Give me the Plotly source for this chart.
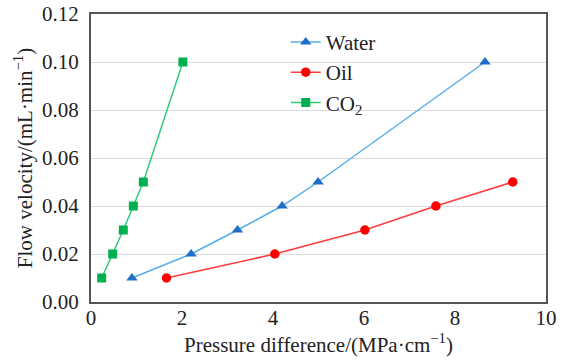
import plotly.graph_objects as go

water_x = [0.90, 2.20, 3.22, 4.20, 4.99, 8.66]
water_y = [0.01, 0.02, 0.03, 0.04, 0.05, 0.10]
oil_x = [1.66, 4.04, 6.02, 7.58, 9.27]
oil_y = [0.01, 0.02, 0.03, 0.04, 0.05]
co2_x = [0.235, 0.477, 0.71, 0.93, 1.15, 2.02]
co2_y = [0.01, 0.02, 0.03, 0.04, 0.05, 0.10]

font = "Liberation Serif"
fs = 21

fig = go.Figure()
fig.add_trace(go.Scatter(x=water_x, y=water_y, name="Water", mode="lines+markers",
                         line=dict(color="#56aee8", width=1.5),
                         marker=dict(symbol="triangle-up", size=10, color="#1f6fc8")))
fig.add_trace(go.Scatter(x=oil_x, y=oil_y, name="Oil", mode="lines+markers",
                         line=dict(color="#ff3b3b", width=1.5),
                         marker=dict(symbol="circle", size=9.5, color="#ff0000")))
fig.add_trace(go.Scatter(x=co2_x, y=co2_y, name="CO<sub>2</sub>", mode="lines+markers",
                         line=dict(color="#2fcc7a", width=1.5),
                         marker=dict(symbol="square", size=9, color="#00b050")))

fig.update_layout(
    width=566, height=361,
    margin=dict(l=91, r=20, t=14, b=59, autoexpand=False),
    paper_bgcolor="white", plot_bgcolor="white",
    font=dict(family=font, size=fs, color="#222"),
    showlegend=True,
    legend=dict(x=0.428, y=0.973, xanchor="left", yanchor="top",
                bgcolor="rgba(0,0,0,0)", font=dict(size=fs, family=font)),
    xaxis=dict(range=[0, 10], tickvals=[0, 2, 4, 6, 8, 10], showgrid=False,
               showline=True, linecolor="#555", linewidth=2, mirror=True,
               ticks="", zeroline=False, automargin=False, ticklabelstandoff=-4,
               title=dict(text="Pressure difference/(MPa·cm<sup>−1</sup>)", standoff=0,
                          font=dict(size=fs, family=font)),
               tickfont=dict(size=fs, family=font)),
    yaxis=dict(range=[0, 0.12], tickvals=[0, 0.02, 0.04, 0.06, 0.08, 0.10, 0.12],
               tickformat=".2f", showgrid=True, gridcolor="#d9d9e0", gridwidth=1,
               showline=True, linecolor="#555", linewidth=2, mirror=True,
               ticks="", zeroline=False, automargin=False, ticklabelstandoff=6,
               ticklabeloverflow="allow",
               title=dict(text="Flow velocity/(mL·min<sup>−1</sup>)", standoff=4,
                          font=dict(size=fs, family=font)),
               tickfont=dict(size=fs, family=font)),
)

fig.write_html("out.html", config={"displayModeBar": False},
               post_script="document.body.style.margin='0px';")
